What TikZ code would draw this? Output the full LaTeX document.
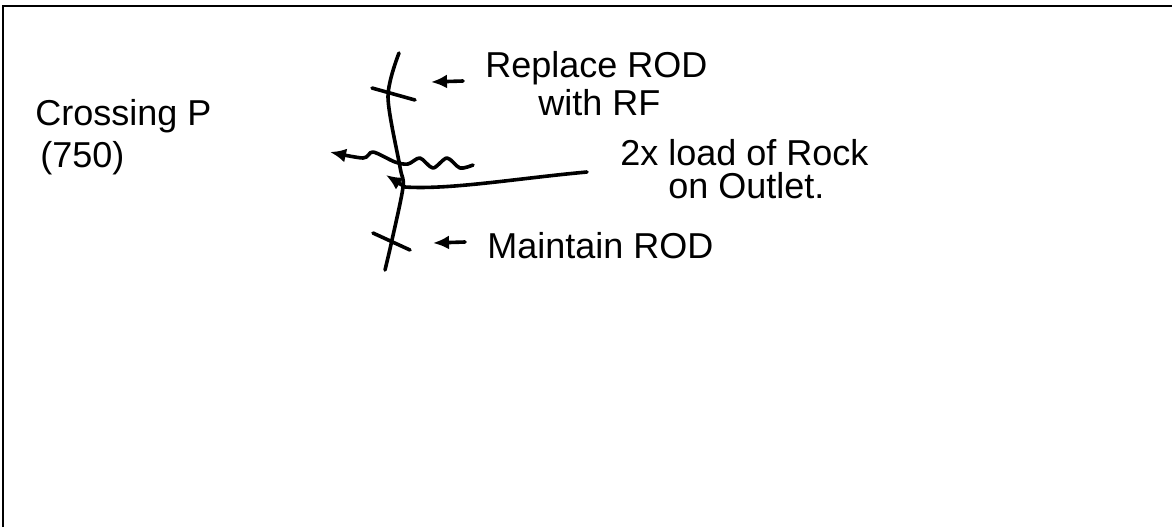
\documentclass[tikz,border=0pt]{standalone}
\usepackage{fontspec}
\setmainfont{Liberation Sans}
\usetikzlibrary{arrows.meta}

\begin{document}
\begin{tikzpicture}[x=0.5pt,y=-0.5pt,
  pen/.style={line width=1.8pt, line cap=round, line join=round},
  note/.style={draw=none, anchor=base west, inner sep=0pt, font=\fontsize{18}{20}\selectfont},
  tip/.style={pen, -{Latex[length=8pt,width=7pt]}}]
  \useasboundingbox (0,0) rectangle (1172,527);

  % sheet edge
  \draw[line width=1pt] (3,527) -- (3,6) -- (1172,6);

  \node[note] (crossing) at (35,125) {Crossing P};
  \node[note] (size) at (40,167) {(750)};
  \node[note] (replace) at (485,77) {Replace ROD};
  \node[note] (withrf) at (538,115) {with RF};
  \node[note] (rock) at (620,165) {2x load of Rock};
  \node[note] (outlet) at (668,198) {on Outlet.};
  \node[note] (maintain) at (487,258) {Maintain ROD};

  \coordinate (roadtop) at (399,53);
  \coordinate (roadbot) at (385,270);
  \coordinate (upstart) at (463,81);
  \coordinate (upend) at (431,82);
  \coordinate (downstart) at (465,242);
  \coordinate (downend) at (433,243);
  \coordinate (wavestart) at (473,165);
  \coordinate (waveend) at (330,152);
  \coordinate (pipestart) at (587,172);
  \coordinate (pipeend) at (386,175);

  % road line with the two markers
  \draw[pen] plot[smooth] coordinates {(roadtop) (388,97) (400,167) (403,187) (392,240) (roadbot)};
  \draw[pen] (372,88) -- (415,100);
  \draw[pen] (373,233) -- (410,250);

  \draw[tip] (upstart) -- (upend);
  \draw[tip] (downstart) -- (downend);

  % water and outlet
  \draw[tip] plot[smooth] coordinates {(wavestart) (460,168) (447,158) (433,168) (420,158) (408,164) (395,162) (373,152) (363,158) (waveend)};
  \draw[tip] (pipestart) .. controls (520,178) and (450,190) .. (405,187) -- (pipeend);
\end{tikzpicture}
\end{document}
